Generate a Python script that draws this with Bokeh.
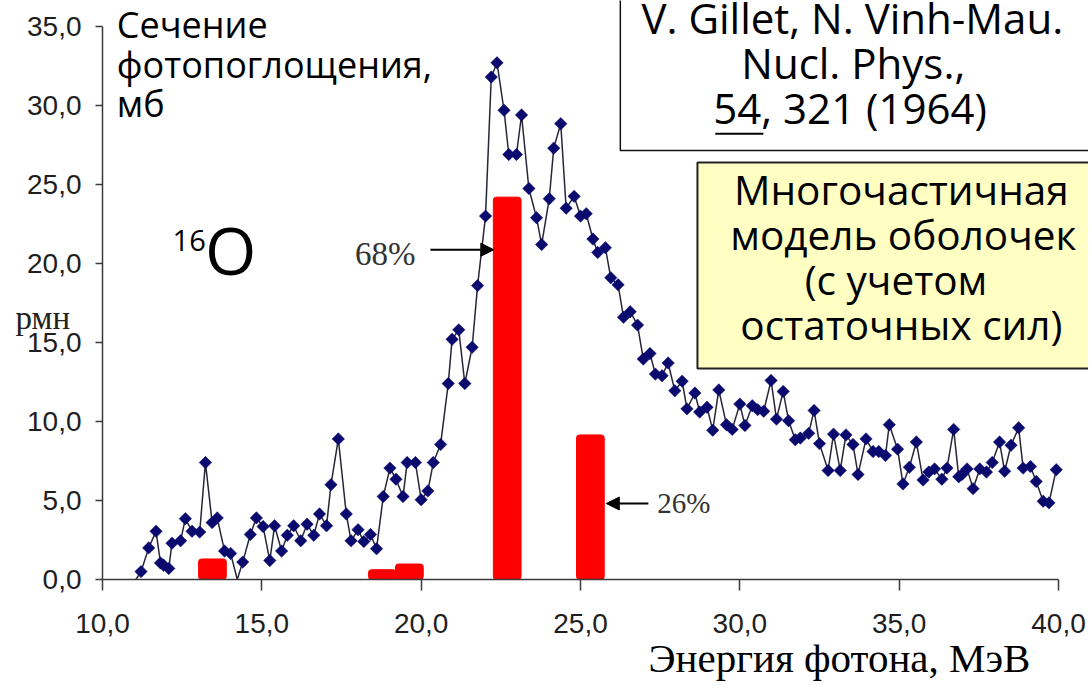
from bokeh.plotting import figure
from bokeh.models import Range1d, FixedTicker, Label, Arrow, NormalHead, ColumnDataSource
from bokeh.embed import file_html
from bokeh.resources import INLINE
import numpy as np

# ---- data ----
energy = [11.05, 11.21, 11.45, 11.68, 11.82, 11.92, 12.08, 12.18, 12.45, 12.6, 12.81, 13.05, 13.23,
          13.44, 13.6, 13.83, 14.02, 14.23, 14.4, 14.64, 14.83, 15.04, 15.25, 15.4, 15.62, 15.8, 16.0,
          16.22, 16.42, 16.63, 16.81, 17.03, 17.17, 17.4, 17.65, 17.8, 18.02, 18.2, 18.41, 18.6, 18.81,
          19.02, 19.21, 19.43, 19.56, 19.82, 20.0, 20.21, 20.38, 20.61, 20.85, 20.97, 21.18, 21.37,
          21.6, 21.77, 22.02, 22.2, 22.38, 22.6, 22.75, 22.99, 23.15, 23.38, 23.62, 23.78, 24.02,
          24.16, 24.38, 24.55, 24.8, 25.0, 25.18, 25.39, 25.54, 25.78, 25.95, 26.18, 26.35, 26.56,
          26.79, 26.97, 27.18, 27.35, 27.56, 27.75, 27.96, 28.19, 28.34, 28.59, 28.74, 28.97, 29.15,
          29.34, 29.58, 29.76, 30.0, 30.16, 30.39, 30.56, 30.75, 30.98, 31.15, 31.36, 31.53, 31.74,
          31.9, 32.16, 32.33, 32.5, 32.77, 32.94, 33.15, 33.33, 33.55, 33.71, 33.96, 34.18, 34.36,
          34.57, 34.69, 34.95, 35.12, 35.32, 35.54, 35.75, 35.93, 36.11, 36.34, 36.5, 36.71, 36.87,
          36.97, 37.13, 37.32, 37.53, 37.74, 37.92, 38.15, 38.31, 38.51, 38.75, 38.89, 39.12, 39.3,
          39.52, 39.7, 39.93]
cross_section = [-0.3, 0.5, 2.0, 3.05, 1.05, 0.9, 0.7, 2.3, 2.45, 3.85, 3.05, 3.0, 7.4,
                 3.6, 3.9, 1.8, 1.65, -0.2, 1.1, 2.85, 3.9, 3.35, 1.2, 3.4, 1.8, 2.8, 3.4,
                 2.45, 3.5, 2.8, 4.15, 3.4, 6.0, 8.9, 4.15, 2.45, 3.15, 2.4, 2.85, 1.95, 5.25,
                 7.05, 6.35, 5.25, 7.4, 7.4, 5.05, 5.6, 7.4, 8.55, 12.4, 15.2, 15.8, 12.4,
                 14.7, 18.6, 23.0, 31.8, 32.7, 29.7, 26.9, 26.9, 29.4, 24.75, 22.9, 21.2, 24.1,
                 27.3, 28.85, 23.5, 24.25, 23.0, 23.15, 21.55, 20.7, 21.0, 19.1, 18.65, 16.6, 16.95,
                 16.1, 13.95, 14.3, 13.0, 12.9, 13.7, 11.95, 12.55, 10.8, 11.8, 10.6, 10.9, 9.45,
                 12.0, 9.8, 9.5, 11.1, 9.75, 11.0, 10.75, 10.65, 12.6, 10.15, 11.9, 10.05, 8.85,
                 8.95, 9.25, 10.7, 8.6, 6.9, 9.2, 6.9, 9.15, 8.55, 6.65, 8.9, 8.1, 8.1,
                 7.85, 9.8, 8.25, 6.05, 7.1, 8.7, 6.3, 6.8, 7.0, 6.35, 7.05, 9.5, 6.5,
                 6.65, 7.0, 5.75, 7.0, 6.8, 7.4, 8.7, 6.85, 8.5, 9.6, 7.05, 7.15, 6.2,
                 4.95, 4.85, 6.95]

bar_centers = [13.45, 18.78, 19.63, 22.7, 25.31]
bar_heights = [1.3, 0.62, 0.98, 24.2, 9.15]
bar_width = 0.87

x_ticks = [10, 15, 20, 25, 30, 35, 40]
x_tick_labels = ["10,0", "15,0", "20,0", "25,0", "30,0", "35,0", "40,0"]
y_ticks = [0, 5, 10, 15, 20, 25, 30, 35]
y_tick_labels = ["0,0", "5,0", "10,0", "15,0", "20,0", "25,0", "30,0", "35,0"]

y_title_lines = ["Сечение", "фотопоглощения,", "мб"]
x_title = "Энергия фотона, МэВ"
ref_lines = ["V. Gillet, N. Vinh-Mau.", "Nucl. Phys.,", "54, 321 (1964)"]
model_lines = ["Многочастичная", "модель оболочек", "(с учетом", "остаточных сил)"]

# ---- figure: frame covers whole canvas, axes sit at fixed data locations ----
W, H = 1088, 684
PX_X = 956 / 30.0   # pixels per MeV
PX_Y = 553 / 35.0   # pixels per mb
X0_PX, Y0_PX = 102, 579
p = figure(width=W, height=H, output_backend="svg", toolbar_location=None,
           x_range=Range1d(10 - X0_PX / PX_X, 10 + (W - X0_PX) / PX_X),
           y_range=Range1d(-(H - Y0_PX) / PX_Y, Y0_PX / PX_Y),
           min_border_left=0, min_border_right=0, min_border_top=0, min_border_bottom=0)
p.title = None
p.outline_line_color = None
p.xgrid.visible = False
p.ygrid.visible = False
p.background_fill_color = "white"
p.border_fill_color = "white"

axis_color = "#3a3a3a"
for ax, ticks, labels, b in ((p.xaxis[0], x_ticks, x_tick_labels, (10, 40)),
                             (p.yaxis[0], y_ticks, y_tick_labels, (0, 35))):
    ax.ticker = FixedTicker(ticks=ticks)
    ax.major_label_overrides = {t: l for t, l in zip(ticks, labels)}
    ax.bounds = b
    ax.axis_line_color = axis_color
    ax.axis_line_width = 1.5
    ax.major_tick_line_color = axis_color
    ax.major_tick_line_width = 1.5
    ax.major_tick_in = 0
    ax.minor_tick_line_color = None
    ax.major_label_text_font = "Liberation Sans"
    ax.major_label_text_font_size = "28px"
    ax.major_label_text_color = "#1e1e1e"
p.xaxis.fixed_location = 0
p.yaxis.fixed_location = 10
p.xaxis.major_tick_out = 11
p.xaxis.major_label_standoff = 23
p.yaxis.major_tick_out = 7
p.yaxis.major_label_standoff = 14


def lab(x, y, text, font, size, align="left", color="black"):
    # y is the wanted baseline; Bokeh's alphabetic anchor sits ~0.44em above it
    p.add_layout(Label(x=x, y=y + 0.44 * size / PX_Y, text=text, text_align=align,
                       text_baseline="alphabetic", text_font=font,
                       text_font_size=f"{size}px", text_color=color))


# boxes
p.quad(left=[26.25], right=[45], bottom=[27.15], top=[40], fill_color="white",
       line_color="#111111", line_width=1.5)
p.quad(left=[28.67], right=[45], bottom=[13.35], top=[26.39], fill_color="#FFFFC4",
       line_color="#222222", line_width=2)

# bars
p.vbar(x=bar_centers, top=bar_heights, bottom=0, width=bar_width, fill_color="#FF0000",
       line_color="#FF0000", border_radius=3)

# curve (the chart clips it at the axis, y = 0)
xe = np.array(energy)
ye = np.array(cross_section)
src = ColumnDataSource(dict(x=xe, y=np.clip(ye, 0, None)))
p.line("x", "y", source=src, line_color="#262636", line_width=1.5)
mask = ye >= 0
p.scatter(xe[mask], ye[mask], marker="square", angle=np.pi / 4, size=8.8,
          fill_color="#0a0a6e", line_color="#0a0a6e", line_width=0.5)

# arrows and percent labels
p.add_layout(Arrow(end=NormalHead(size=13, fill_color="black", line_color="black"),
                   x_start=20.29, y_start=20.87, x_end=22.28, y_end=20.87,
                   line_color="black", line_width=2))
p.add_layout(Arrow(end=NormalHead(size=13, fill_color="black", line_color="black"),
                   x_start=27.13, y_start=4.81, x_end=25.81, y_end=4.81,
                   line_color="black", line_width=2))
p.add_layout(Label(x=19.82, y=20.63, text="68%", text_align="right", text_baseline="middle",
                   text_font="Liberation Serif", text_font_size="33px", text_color="#333333"))
p.add_layout(Label(x=27.41, y=4.87, text="26%", text_align="left", text_baseline="middle",
                   text_font="Liberation Serif", text_font_size="29px", text_color="#333333"))

# 16O
lab(12.2, 20.63, "16", "Open Sans", 29)
lab(13.22, 19.1, "O", "Open Sans", 66)

# y title
for txt, yy in zip(y_title_lines, [34.1, 31.57, 29.14]):
    lab(10.45, yy, txt, "Open Sans", 36)

# leftover fragment on the left
lab(7.27, 15.63, "рмн", "Liberation Serif", 33, color="#222222")

# x title
lab(39.12, -6.08, x_title, "Liberation Serif", 41, align="right")

# reference box texts
for txt, xx, yy in zip(ref_lines, [33.53, 33.56, 33.46], [34.43, 31.58, 28.73]):
    lab(xx, yy, txt, "Open Sans", 42, align="center")
p.segment(x0=[29.23], y0=[28.21], x1=[30.74], y1=[28.21], line_color="black", line_width=2)

# model box texts
for txt, xx, yy in zip(model_lines, [35.07, 35.13, 34.9, 35.07], [23.56, 20.72, 17.87, 15.02]):
    lab(xx, yy, txt, "Open Sans", 40.5, align="center")

open("out.html", "w").write(file_html(p, INLINE))
